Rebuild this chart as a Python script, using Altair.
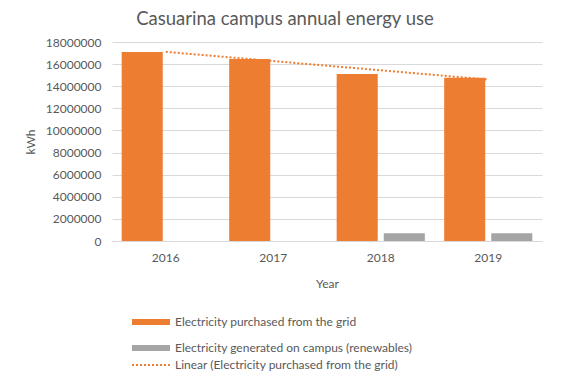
import altair as alt
import numpy as np
import pandas as pd

years = ["2016", "2017", "2018", "2019"]
grid_kwh = [17100000, 16460000, 15100000, 14770000]
renew_kwh = [0, 0, 690000, 690000]
series_names = ["Electricity purchased from the grid",
                "Electricity generated on campus (renewables)"]
trend_name = "Linear (Electricity purchased from the grid)"
y_ticks = [0, 2000000, 4000000, 6000000, 8000000, 10000000,
           12000000, 14000000, 16000000, 18000000]

ORANGE = "#ED7D31"
GRAY = "#A5A5A5"
TXT = "#595959"
FONT = "Lato"

bars = pd.DataFrame({
    "year": years * 2,
    "series": [series_names[0]] * 4 + [series_names[1]] * 4,
    "kwh": grid_kwh + renew_kwh,
})

idx = np.arange(len(years))
slope, icpt = np.polyfit(idx, np.array(grid_kwh, dtype=float), 1)
trend = pd.DataFrame({"year": years, "kwh": icpt + slope * idx, "trend": [trend_name] * 4})

xscale = alt.Scale(paddingInner=0.18, paddingOuter=0.09)
yscale = alt.Scale(domain=[0, 18000000], nice=False)

xaxis = alt.Axis(title="Year", labelAngle=0, tickSize=0, domainColor="#D9D9D9",
                 labelPadding=11, titlePadding=15, labelColor=TXT, titleColor=TXT,
                 labelFont=FONT, titleFont=FONT, labelFontSize=12, titleFontSize=12,
                 titleFontWeight="normal")
yaxis = alt.Axis(title="kWh", values=y_ticks, format="d", tickSize=0, domain=False,
                 gridColor="#D9D9D9", labelPadding=11, titlePadding=8, labelColor=TXT,
                 titleColor=TXT, labelFont=FONT, titleFont=FONT, labelFontSize=12,
                 titleFontSize=12, labelOverlap=False, titleFontWeight="normal")

bar_sym = "M-1,-0.16H1V0.16H-1Z"

bar_layer = alt.Chart(bars).mark_bar().encode(
    x=alt.X("year:N", scale=xscale, sort=years, axis=xaxis),
    xOffset=alt.XOffset("series:N", sort=series_names,
                        scale=alt.Scale(paddingInner=0.128, paddingOuter=0)),
    y=alt.Y("kwh:Q", scale=yscale, axis=yaxis),
    color=alt.Color("series:N", scale=alt.Scale(domain=series_names, range=[ORANGE, GRAY]),
                    legend=alt.Legend(title=None, orient="none", legendX=19, legendY=260,
                                      symbolType=bar_sym, symbolSize=1444, rowPadding=-1,
                                      labelFont=FONT, labelFontSize=12, labelColor=TXT,
                                      symbolOpacity=1, labelLimit=400)),
)

line_layer = alt.Chart(trend).mark_line(color=ORANGE, strokeDash=[2, 2], strokeWidth=2).encode(
    x=alt.X("year:N", scale=xscale, sort=years, axis=xaxis),
    y=alt.Y("kwh:Q", scale=yscale, axis=yaxis),
    strokeDash=alt.StrokeDash("trend:N", scale=alt.Scale(domain=[trend_name], range=[[2, 2]]),
                              legend=alt.Legend(title=None, orient="none", legendX=19, legendY=303,
                                                symbolType="stroke", symbolSize=1444,
                                                symbolStrokeColor=ORANGE, symbolStrokeWidth=2,
                                                labelFont=FONT, labelFontSize=12, labelColor=TXT,
                                                labelLimit=400)),
)

chart = alt.layer(bar_layer, line_layer).properties(
    width=430, height=199,
    autosize=alt.AutoSizeParams(type="none"),
    padding={"left": 104, "top": 34, "right": 22, "bottom": 132},
    title=alt.TitleParams("Casuarina campus annual energy use", font=FONT, fontSize=18.5,
                          fontWeight="normal", color=TXT, anchor="middle", dx=-42, offset=8),
).configure_view(stroke=None)

chart.save("out.html", embed_options={"renderer": "svg", "actions": False})
